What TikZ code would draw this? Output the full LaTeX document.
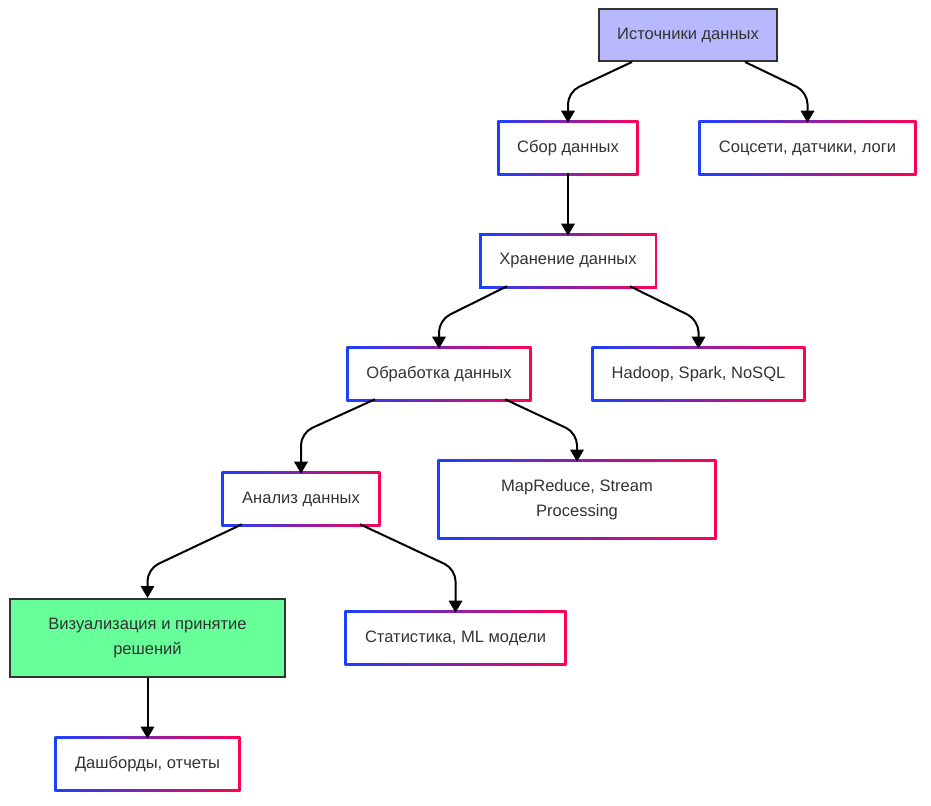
\documentclass[tikz,border=0pt]{standalone}
\usepackage{fontspec}
\setmainfont{Liberation Sans}
\usetikzlibrary{arrows.meta,calc,backgrounds}
\definecolor{gb}{RGB}{26,64,255}
\definecolor{gr}{RGB}{255,0,85}
\definecolor{lav}{RGB}{184,184,255}
\definecolor{grn}{RGB}{102,255,153}
\definecolor{txt}{RGB}{51,51,51}
\begin{document}
\begin{tikzpicture}[x=0.75pt,y=-0.75pt,
  base/.style={rectangle, font=\fontsize{12.4}{18.75}\selectfont, text=txt, align=center, inner sep=0pt},
  gbox/.style={base, fill=white},
  sz/.style 2 args={minimum width=#1*0.75pt, minimum height=#2*0.75pt},
  colbox/.style={base, fill=#1, draw=txt, line width=1.5pt},
  edge/.style={line width=1.5pt, -{Triangle[width=10pt,length=9pt]}, rounded corners=9pt}]
\useasboundingbox (0,0) rectangle (931,806);
\node[colbox=lav, sz={178}{52}] (src) at (688,35) {Источники данных};
\node[gbox, sz={136}{50}] (col) at (568,148) {Сбор данных};
\node[gbox, sz={213}{50}] (soc) at (807.5,148) {Соцсети, датчики, логи};
\node[gbox, sz={173}{50}] (sto) at (568,261) {Хранение данных};
\node[gbox, sz={180}{50}] (proc) at (439,374) {Обработка данных};
\node[gbox, sz={209}{50}] (had) at (698.5,374) {Hadoop, Spark, NoSQL};
\node[gbox, sz={154}{50}] (ana) at (301,499) {Анализ данных};
\node[gbox, sz={274}{75}] (mr) at (577,499.5) {MapReduce, Stream\\Processing};
\node[colbox=grn, sz={275}{78}] (viz) at (147.5,638) {Визуализация и принятие\\решений};
\node[gbox, sz={217}{50}] (stat) at (455.5,638) {Статистика, ML модели};
\node[gbox, sz={181}{50}] (dash) at (147.5,764) {Дашборды, отчеты};
\begin{scope}[on background layer]
\fill[white] (0,0) rectangle (931,806);
\foreach \n in {col,soc,sto,proc,had,ana,mr,stat,dash}
  \shade[left color=gb,right color=gr] ([shift={(-1.5pt,1.5pt)}]\n.north west) rectangle ([shift={(1.5pt,-1.5pt)}]\n.south east);
\end{scope}
\draw[edge] ($(src.south)+(-56,0)$) -- (col.north |- 0,92) -- (col.north);
\draw[edge] ($(src.south)+(57,0)$) -- (soc.north |- 0,92) -- (soc.north);
\draw[edge] (col.south) -- (sto.north);
\draw[edge] ($(sto.south)+(-61,0)$) -- (proc.north |- 0,320) -- (proc.north);
\draw[edge] ($(sto.south)+(62,0)$) -- (had.north |- 0,320) -- (had.north);
\draw[edge] ($(proc.south)+(-64,0)$) -- (ana.north |- 0,433) -- (ana.north);
\draw[edge] ($(proc.south)+(66,0)$) -- (mr.north |- 0,433) -- (mr.north);
\draw[edge] ($(ana.south)+(-59,0)$) -- (viz.north |- 0,569) -- (viz.north);
\draw[edge] ($(ana.south)+(59,0)$) -- (stat.north |- 0,569) -- (stat.north);
\draw[edge] (viz.south) -- (dash.north);
\end{tikzpicture}
\end{document}
